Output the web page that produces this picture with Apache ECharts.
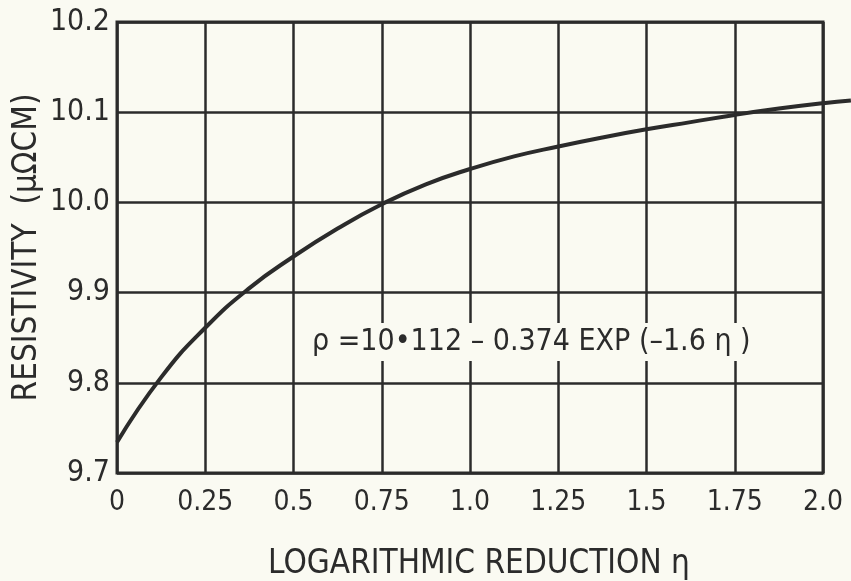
<!DOCTYPE html>
<html>
<head>
<meta charset="utf-8">
<script src="https://cdn.jsdelivr.net/npm/echarts@6/dist/echarts.min.js"></script>
<style>
  html, body { margin: 0; padding: 0; background: #fafaf2; }
  #chart { width: 851px; height: 581px; }
</style>
</head>
<body>
<div id="chart"></div>
<script>
// Values (the curve runs slightly past eta = 2.0)
const etaValues = [0, 0.125, 0.25, 0.375, 0.5, 0.625, 0.75, 0.875, 1.0, 1.125, 1.25, 1.375, 1.5, 1.625, 1.75, 1.875, 2.0, 2.079];
const rhoValues = [9.734, 9.806, 9.861, 9.905, 9.940, 9.971, 9.998, 10.020, 10.037, 10.051, 10.062, 10.072, 10.081, 10.089, 10.097, 10.104, 10.110, 10.113];
const xTickLabels = ['0', '0.25', '0.5', '0.75', '1.0', '1.25', '1.5', '1.75', '2.0'];
const yTickLabels = ['9.7', '9.8', '9.9', '10.0', '10.1', '10.2'];
const xTitle = 'LOGARITHMIC REDUCTION \u03b7';
const yTitle = 'RESISTIVITY  (\u03bc\u03a9CM)';
const formulaText = '\u03c1 =10\u2022112 \u2013 0.374 EXP (\u20131.6 \u03b7 )';

const ink = '#2b2b2b';
const paper = '#fafaf2';
const font = "'DejaVu Sans Condensed', 'DejaVu Sans', sans-serif";

const W = 851, gLeft = 117, gRight = 28, gTop = 22, gBottom = 108;
const xMax = 2.0;
// second (hidden) grid reaching the right edge of the page, same scale as the first
const xMaxWide = xMax * (W - gLeft) / (W - gLeft - gRight);

const chart = echarts.init(document.getElementById('chart'), null, { renderer: 'canvas' });
const seriesData = etaValues.map((x, i) => [x, rhoValues[i]]);

chart.setOption({
  backgroundColor: paper,
  animation: false,
  grid: [{
    left: gLeft, top: gTop, right: gRight, bottom: gBottom,
    outerBoundsMode: 'none', containLabel: false,
    show: true, borderColor: ink, borderWidth: 3, backgroundColor: 'transparent'
  }, {
    left: gLeft, top: gTop, right: 0, bottom: gBottom,
    outerBoundsMode: 'none', containLabel: false, show: false
  }],
  xAxis: [{
    gridIndex: 0,
    type: 'value', min: 0, max: xMax, interval: 0.25,
    name: xTitle, nameLocation: 'middle', nameGap: 75,
    nameTextStyle: { fontFamily: font, fontSize: 33, color: ink, padding: [0, 0, 0, 18] },
    axisLine: { show: false },
    axisTick: { show: false },
    splitLine: { show: true, lineStyle: { color: ink, width: 2.5 } },
    axisLabel: {
      margin: 16, color: ink, fontFamily: font, fontSize: 28,
      formatter: v => xTickLabels[Math.round(v / 0.25)] || ''
    }
  }, {
    gridIndex: 1, type: 'value', min: 0, max: xMaxWide, show: false
  }],
  yAxis: [{
    gridIndex: 0,
    type: 'value', min: 9.7, max: 10.2, interval: 0.1,
    name: yTitle, nameLocation: 'middle', nameGap: 73, nameRotate: 90,
    nameMoveOverlap: false,
    nameTextStyle: { fontFamily: font, fontSize: 33, color: ink },
    axisLine: { show: false },
    axisTick: { show: false },
    splitLine: { show: true, lineStyle: { color: ink, width: 2.5 } },
    axisLabel: {
      margin: 7, color: ink, fontFamily: font, fontSize: 30,
      formatter: v => yTickLabels[Math.round((v - 9.7) / 0.1)] || ''
    }
  }, {
    gridIndex: 1, type: 'value', min: 9.7, max: 10.2, show: false
  }],
  series: [{
    type: 'line',
    xAxisIndex: 1, yAxisIndex: 1,
    data: seriesData,
    smooth: true,
    showSymbol: false,
    clip: false,
    lineStyle: { color: ink, width: 4 }
  }],
  graphic: [{
    type: 'text',
    left: 300, top: 323,
    z: 100,
    style: {
      text: formulaText,
      fontFamily: font, fontSize: 30, fill: ink,
      backgroundColor: paper,
      padding: [4, 6, 4, 12]
    }
  }]
});
</script>
</body>
</html>
